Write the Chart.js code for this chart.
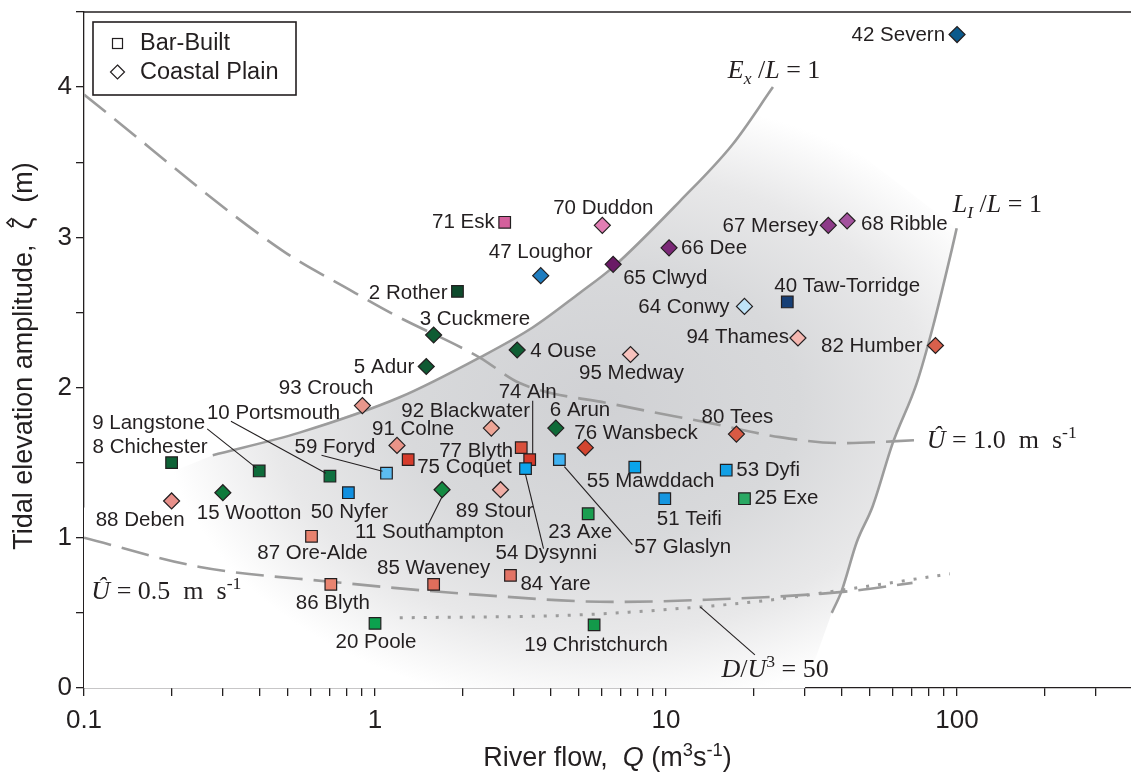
<!DOCTYPE html>
<html>
<head>
<meta charset="utf-8">
<script src="https://cdn.jsdelivr.net/npm/chart.js@4.4.1/dist/chart.umd.min.js"></script>
<style>
html,body{margin:0;padding:0;background:#fff}
canvas{display:block}
</style>
</head>
<body>
<canvas id="estuaries" width="1131" height="774"></canvas>
<script>
// estuary tidal amplitude vs river flow, log x axis
const INK = '#231f20';
const SANS = '"Liberation Sans", Arial, sans-serif';
const SERIF = '"Liberation Serif", "Times New Roman", serif';

const xTickLabels = [0.1, 1, 10, 100];
const yTickLabels = [0, 1, 2, 3, 4];

// bar-built estuaries (squares)
const barNames = ['71 Esk','2 Rother','40 Taw-Torridge','77 Blyth','74 Aln','75 Coquet','59 Foryd','54 Dysynni','57 Glaslyn','55 Mawddach','53 Dyfi','51 Teifi','25 Exe','8 Chichester','9 Langstone','10 Portsmouth','50 Nyfer','23 Axe','87 Ore-Alde','85 Waveney','84 Yare','86 Blyth','20 Poole','19 Christchurch'];
const barQ   = [2.79,1.92,26.1,3.18,3.40,1.30,1.095,3.29,4.30,7.81,16.1,9.9,18.6,0.20,0.40,0.70,0.81,5.40,0.605,1.59,2.92,0.705,1.0,5.66];
const barAmp = [3.10,2.64,2.57,1.60,1.52,1.52,1.43,1.46,1.52,1.47,1.45,1.26,1.26,1.50,1.445,1.41,1.30,1.16,1.01,0.69,0.75,0.69,0.43,0.42];

// coastal plain estuaries (diamonds)
const coastNames = ['42 Severn','70 Duddon','47 Loughor','65 Clwyd','66 Dee','67 Mersey','68 Ribble','3 Cuckmere','4 Ouse','5 Adur','64 Conwy','94 Thames','82 Humber','95 Medway','93 Crouch','80 Tees','6 Arun','92 Blackwater','91 Colne','76 Wansbeck','15 Wootton','88 Deben','11 Southampton','89 Stour'];
const coastQ   = [100,6.04,3.71,6.58,10.24,36.1,41.9,1.59,3.08,1.50,18.6,28.4,84.3,7.55,0.905,17.45,4.18,2.51,1.19,5.28,0.30,0.20,1.70,2.70];
const coastAmp = [4.35,3.08,2.745,2.82,2.93,3.08,3.11,2.35,2.25,2.14,2.54,2.33,2.28,2.22,1.88,1.69,1.73,1.73,1.615,1.60,1.30,1.245,1.32,1.32];

// threshold curves
const exQ = [0.277,0.55,1.216,2.29,3.48,5.05,6.56,11.15,16.95,23.3];
const exAmp = [1.55,1.70,1.935,2.20,2.40,2.63,2.80,3.24,3.62,4.00];
const liQ = [37.1,40.2,45.2,51.3,60.1,72.7,82.5,95.7,99.7];
const liAmp = [0.50,0.65,0.97,1.21,1.63,2.03,2.40,2.91,3.06];
const u10Q = [0.1,0.482,0.819,1.15,2.29,3.14,6.56,14.5,24.6,40.5,72.7];
const u10Amp = [3.95,2.91,2.65,2.49,2.20,2.03,1.89,1.76,1.67,1.63,1.65];
const u05Q = [0.1,0.25,0.715,2.29,6.56,13.1,40.5,70.3];
const u05Amp = [1.0,0.806,0.706,0.62,0.573,0.586,0.64,0.70];
const duQ = [1.216,5.05,13.1,22.7,40.5,94.4];
const duAmp = [0.467,0.487,0.54,0.585,0.653,0.76];

// extra corners closing the shaded zone, and its darkest spot
const shadeCornerQ = [0.1, 0.1, 30];
const shadeCornerAmp = [1.2, 0, 0];
const shadeCentre = [6.0, 1.9];

// styles / label placement (px offsets from marker)
const barColors = ['#d4609c','#0e4a2c','#163f76','#d8503c','#d43a2a','#d63c2c','#5cbcf0','#0ea5ec','#3fb2f2','#0aa4ec','#12a0e6','#1596e0','#2aa863','#0e6236','#0e6b3a','#0f7040','#1190e0','#1a9e50','#e8826e','#df6e5c','#e27466','#e98470','#0ca14e','#13994a'];
const coastColors = ['#0b5a8c','#e27eb4','#1f7dc0','#6a1a66','#7b2877','#8d3a88','#a3529e','#0e5c33','#0f5e34','#0f5a33','#bfe3f7','#f4b7b0','#d9604c','#f7c2bd','#e8978c','#d85a44','#0f6a38','#eda596','#e99488','#d4452f','#0e7a3c','#e8908a','#148a42','#f0aea6'];
const barLabelPos = [[-10,0,'right'],[-10,2,'right'],[-13,-16,'left'],[-8,4,'right'],[-2,-67,'center'],[9,8,'left'],[-11,-26,'right'],[-30,85,'left'],[75,88,'left'],[-48,14,'left'],[10,0,'left'],[-8,21,'left'],[10,0,'left'],[-79,-15,'left'],[-167,-48,'left'],[-123,-63,'left'],[1,20,'center'],[-8,19,'center'],[1,17,'center'],[0,-16,'center'],[10,9,'left'],[2,19,'center'],[1,19,'center'],[2,20,'center']];
const coastLabelPos = [[-12,1,'right'],[1,-17,'center'],[0,-23,'center'],[10,14,'left'],[12,0,'left'],[-10,1,'right'],[14,4,'left'],[-14,-16,'left'],[13,1,'left'],[-12,1,'right'],[-15,1,'right'],[-9,-1,'right'],[-13,1,'right'],[1,19,'center'],[11,-17,'right'],[1,-17,'center'],[-6,-18,'left'],[-90,-17,'left'],[-25,-16,'left'],[-11,-14,'left'],[-26,21,'left'],[13,19,'right'],[-87,43,'left'],[-6,22,'center']];
const leaders = {
  '74 Aln': [3,-59,3,-6],
  '59 Foryd': [-65,-18,-4,-2],
  '54 Dysynni': [0,6,18,80],
  '57 Glaslyn': [5,7,73,85],
  '9 Langstone': [-52,-42,-3,-3],
  '10 Portsmouth': [-99,-55,-4,-3],
  '11 Southampton': [0,7,-14,35]
};

const curveNotes = [
  {q:16.3, z:4.06, parts:[{t:'E',i:1},{t:'x',i:1,sub:1},{t:' /'},{t:'L',i:1},{t:' = 1'}]},
  {q:96.6, z:3.17, parts:[{t:'L',i:1},{t:'I',i:1,sub:1},{t:' /'},{t:'L',i:1},{t:' = 1'}]},
  {q:78.7, z:1.60, parts:[{t:'Û',i:1},{t:' = 1.0  m  s'},{t:'-1',sup:1}]},
  {q:0.106, z:0.593, parts:[{t:'Û',i:1},{t:' = 0.5  m  s'},{t:'-1',sup:1}]},
  {q:15.5, z:0.075, parts:[{t:'D',i:1},{t:'/'},{t:'U',i:1},{t:'3',sup:1},{t:' = 50'}]}
];

const pts = (qs, zs) => qs.map((q, i) => ({x: q, y: zs[i]}));

function drawRich(ctx, parts, x, y, size, family, measureOnly) {
  let cx = x;
  for (const p of parts) {
    const s = (p.sub || p.sup) ? size * 0.68 : size;
    ctx.font = (p.i ? 'italic ' : '') + s + 'px ' + family;
    const dy = p.sub ? size * 0.22 : p.sup ? -size * 0.38 : 0;
    if (!measureOnly) ctx.fillText(p.t, cx, y + dy);
    cx += ctx.measureText(p.t).width;
  }
  return cx - x;
}

function curveSet(qs, zs, dash, width) {
  return {type:'line', data: pts(qs, zs), borderColor:'#9c9c9c', borderWidth: width,
    borderDash: dash, pointRadius:0, fill:false, tension:0.35,
    cubicInterpolationMode:'monotone', order:2};
}

const overlay = {
  id: 'overlay',
  beforeDatasetsDraw(chart) {
    const {ctx, chartArea: a, scales: {x, y}} = chart;
    const poly = [];
    for (let i = exQ.length - 1; i >= 0; i--) poly.push([exQ[i], exAmp[i]]);
    shadeCornerQ.forEach((q, i) => poly.push([q, shadeCornerAmp[i]]));
    liQ.forEach((q, i) => poly.push([q, liAmp[i]]));
    ctx.save();
    ctx.beginPath();
    ctx.rect(a.left, a.top, a.right - a.left, a.bottom - a.top);
    ctx.clip();
    ctx.beginPath();
    poly.forEach(([q, z], i) => {
      const px = x.getPixelForValue(q), py = y.getPixelForValue(z);
      if (i) ctx.lineTo(px, py); else ctx.moveTo(px, py);
    });
    ctx.closePath();
    ctx.translate(x.getPixelForValue(shadeCentre[0]), y.getPixelForValue(shadeCentre[1]));
    ctx.scale(1, 0.7);
    const g = ctx.createRadialGradient(0, 0, 0, 0, 0, 440);
    g.addColorStop(0, '#d0d1d4');
    g.addColorStop(0.45, '#d8d9db');
    g.addColorStop(0.75, '#e8e8e9');
    g.addColorStop(1, '#ffffff');
    ctx.fillStyle = g;
    ctx.fill();
    ctx.restore();
  },
  afterDatasetsDraw(chart) {
    const {ctx, scales: {x, y}} = chart;
    ctx.save();
    // leader lines + labels
    ctx.strokeStyle = INK; ctx.lineWidth = 1.1;
    ctx.fillStyle = INK;
    ctx.font = '20.5px ' + SANS;
    ctx.textBaseline = 'middle';
    const doLabels = (names, qs, zs, pos) => names.forEach((n, i) => {
      const px = x.getPixelForValue(qs[i]), py = y.getPixelForValue(zs[i]);
      const L = leaders[n];
      if (L) {
        ctx.beginPath(); ctx.moveTo(px + L[0], py + L[1]); ctx.lineTo(px + L[2], py + L[3]); ctx.stroke();
      }
      const [dx, dy, al] = pos[i];
      ctx.textAlign = al;
      ctx.fillText(n, px + dx, py + dy);
    });
    doLabels(barNames, barQ, barAmp, barLabelPos);
    doLabels(coastNames, coastQ, coastAmp, coastLabelPos);

    // D/U^3 pointer
    ctx.beginPath();
    ctx.moveTo(x.getPixelForValue(13.1), y.getPixelForValue(0.54));
    ctx.lineTo(x.getPixelForValue(20.2), y.getPixelForValue(0.22));
    ctx.stroke();

    // curve annotations
    ctx.textAlign = 'left'; ctx.textBaseline = 'alphabetic';
    curveNotes.forEach(n => drawRich(ctx, n.parts, x.getPixelForValue(n.q), y.getPixelForValue(n.z), 26, SERIF));
    ctx.restore();
  },
  afterDraw(chart) {
    const {ctx, chartArea: a} = chart;
    ctx.save();
    ctx.strokeStyle = INK; ctx.lineWidth = 1.3;
    ctx.beginPath(); ctx.moveTo(a.left, a.top); ctx.lineTo(chart.width, a.top); ctx.stroke();

    // legend
    const lx = a.left + 9, ly = a.top + 10;
    ctx.fillStyle = '#fff';
    ctx.fillRect(lx, ly, 203, 73);
    ctx.lineWidth = 1.6;
    ctx.strokeRect(lx, ly, 203, 73);
    ctx.lineWidth = 1.2;
    ctx.strokeRect(lx + 19.5, ly + 16.5, 10, 10);
    ctx.beginPath();
    ctx.moveTo(lx + 24.5, ly + 43); ctx.lineTo(lx + 31.5, ly + 50);
    ctx.lineTo(lx + 24.5, ly + 57); ctx.lineTo(lx + 17.5, ly + 50); ctx.closePath(); ctx.stroke();
    ctx.fillStyle = INK;
    ctx.font = '23.5px ' + SANS;
    ctx.textBaseline = 'middle'; ctx.textAlign = 'left';
    ctx.fillText('Bar-Built', lx + 47, ly + 22);
    ctx.fillText('Coastal Plain', lx + 47, ly + 51);

    // axis titles
    const xParts = [{t:'River flow,  '},{t:'Q',i:1},{t:' (m'},{t:'3',sup:1},{t:'s'},{t:'-1',sup:1},{t:')'}];
    ctx.textBaseline = 'alphabetic';
    const w = drawRich(ctx, xParts, 0, 0, 27, SANS, true);
    drawRich(ctx, xParts, (a.left + a.right) / 2 - w / 2, 766, 27, SANS);

    ctx.translate(25, (a.top + a.bottom) / 2 + 6);
    ctx.rotate(-Math.PI / 2);
    ctx.font = '27px ' + SANS;
    ctx.textBaseline = 'middle'; ctx.textAlign = 'left';
    const t1 = 'Tidal elevation amplitude,  ', t2 = '\u03B6', t3 = '  (m)';
    const w1 = ctx.measureText(t1).width, w2 = ctx.measureText(t2).width, w3 = ctx.measureText(t3).width;
    let sx = -(w1 + w2 + w3) / 2;
    ctx.fillText(t1, sx, 0);
    ctx.fillText(t2, sx + w1, 0);
    ctx.fillText(t3, sx + w1 + w2, 0);
    // circumflex over zeta
    const hx = sx + w1 + w2 / 2 + 1;
    ctx.lineWidth = 1.6;
    ctx.beginPath();
    ctx.moveTo(hx - 4.5, -13); ctx.lineTo(hx, -18); ctx.lineTo(hx + 4.5, -13);
    ctx.stroke();
    ctx.restore();
  }
};

const tickStyle = {font: {family: SANS, size: 26}, color: INK};

new Chart(document.getElementById('estuaries'), {
  type: 'scatter',
  data: {
    datasets: [
      {label:'Bar-Built', data: pts(barQ, barAmp), pointStyle:'rect', pointRadius:8.2, pointHoverRadius:8.2,
        backgroundColor: barColors, borderColor: INK, borderWidth: 1.2, order: 0},
      {label:'Coastal Plain', data: pts(coastQ, coastAmp), pointStyle:'rectRot', pointRadius:8, pointHoverRadius:8,
        backgroundColor: coastColors, borderColor: INK, borderWidth: 1.2, order: 0},
      curveSet(exQ, exAmp, [], 2.6),
      curveSet(liQ, liAmp, [], 2.6),
      curveSet(u10Q, u10Amp, [28, 11], 2.6),
      curveSet(u05Q, u05Amp, [28, 11], 2.6),
      curveSet(duQ, duAmp, [3, 9], 3)
    ]
  },
  options: {
    responsive: false,
    animation: false,
    devicePixelRatio: 1,
    layout: {autoPadding: false, padding: {top: 12, left: 0, right: 0, bottom: 0}},
    plugins: {legend: {display: false}, tooltip: {enabled: false}},
    scales: {
      x: {
        type: 'logarithmic', min: 0.1, max: 396,
        border: {display: true, color: INK, width: 1.3},
        grid: {drawOnChartArea: false, drawTicks: true, tickLength: 8, color: INK, lineWidth: 1.3},
        ticks: Object.assign({autoSkip: false, maxRotation: 0, padding: 9,
          callback: v => {
            const m = xTickLabels.find(t => Math.abs(Math.log10(v) - Math.log10(t)) < 1e-6);
            return m === undefined ? '' : String(m);
          }}, tickStyle),
        afterBuildTicks: s => {
          s.ticks = s.ticks.filter(t => {
            const e = Math.floor(Math.log10(t.value) + 1e-9);
            const m = t.value / Math.pow(10, e);
            return Math.abs(m - Math.round(m)) < 1e-6;
          });
        },
        afterFit: s => { s.height = 86; s.paddingLeft = 0; s.paddingRight = 0; }
      },
      y: {
        type: 'linear', min: 0, max: 4.5,
        border: {display: true, color: INK, width: 1.3},
        grid: {drawOnChartArea: false, drawTicks: true, tickLength: 8, color: INK, lineWidth: 1.3},
        ticks: Object.assign({stepSize: 0.5, padding: 4,
          callback: v => yTickLabels.includes(v) ? String(v) : ''}, tickStyle),
        afterFit: s => { s.width = 84; s.paddingTop = 0; s.paddingBottom = 0; }
      }
    }
  },
  plugins: [overlay]
});
</script>
</body>
</html>
